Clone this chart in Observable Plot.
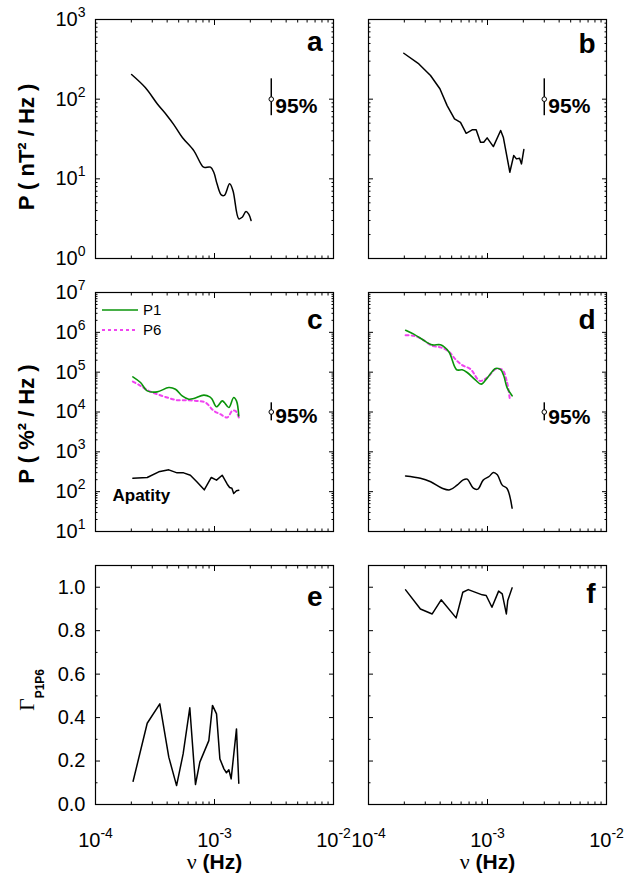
<!DOCTYPE html>
<html><head><meta charset="utf-8">
<script src="https://cdn.jsdelivr.net/npm/d3@7"></script>
<script src="https://cdn.jsdelivr.net/npm/@observablehq/plot@0.6"></script>
<style>
body{margin:0;background:#fff;}
#wrap{position:relative;width:625px;height:881px;overflow:hidden;font-family:"Liberation Sans",Arial,Helvetica,sans-serif;}
#wrap svg{position:absolute;overflow:visible;background:transparent;}
.leg{position:absolute;font-size:15px;line-height:20px;height:20px;display:flex;align-items:center;}
.leg svg{position:static !important;margin-right:5px;}
</style></head><body><div id="wrap"></div>
<script>
// ---------- data ----------
// panel a (magnetometer, left)
const aFreq = [2.01e-4, 2.63e-4, 3.3e-4, 4.0e-4, 4.55e-4, 5.37e-4, 6.7e-4, 7.6e-4, 8.1e-4, 9.25e-4, 9.86e-4, 1.05e-3, 1.14e-3, 1.21e-3, 1.34e-3, 1.43e-3, 1.6e-3, 1.71e-3, 1.84e-3, 1.94e-3, 2.03e-3];
const aPow  = [204, 139, 87.7, 62, 48, 33, 22.6, 15.9, 14, 14, 12.1, 8.65, 6.3, 6.2, 8.65, 7.1, 3.15, 3.3, 3.9, 3.6, 3.0];
// panel b
const bFreq = [1.98e-4, 2.65e-4, 3.32e-4, 3.98e-4, 4.58e-4, 5.28e-4, 5.93e-4, 6.62e-4, 7.43e-4, 8.03e-4, 8.73e-4, 9.3e-4, 9.93e-4, 1.12e-3, 1.29e-3, 1.36e-3, 1.54e-3, 1.66e-3, 1.75e-3, 1.86e-3, 1.93e-3, 2.02e-3];
const bPow  = [377, 277, 198, 135, 83, 56.6, 51, 37.3, 41.2, 41.2, 28.8, 28.8, 32.7, 25.4, 40.4, 33, 12.1, 19.6, 17.8, 18.1, 15.4, 23.3];
// panel c
const cP1Freq = [2.06e-4, 2.39e-4, 2.72e-4, 3.3e-4, 4.13e-4, 4.7e-4, 5.35e-4, 6.08e-4, 6.7e-4, 8.13e-4, 9.13e-4, 9.55e-4, 1.04e-3, 1.16e-3, 1.21e-3, 1.32e-3, 1.45e-3, 1.53e-3, 1.6e-3];
const cP1Pow  = [76400, 55000, 34000, 32000, 41200, 37400, 25400, 21000, 21800, 26500, 24000, 21000, 13500, 19000, 17300, 13000, 23100, 19000, 8000];
const cP6Freq = [2.06e-4, 2.39e-4, 2.8e-4, 3.3e-4, 4.0e-4, 4.85e-4, 5.9e-4, 7.1e-4, 8.4e-4, 9.86e-4, 1.12e-3, 1.28e-3, 1.41e-3, 1.5e-3, 1.6e-3];
const cP6Pow  = [58300, 45400, 34000, 28000, 23100, 19800, 19800, 19000, 17300, 10700, 8800, 7300, 10700, 10700, 7300];
const cApFreq = [2.06e-4, 2.72e-4, 3.4e-4, 4.13e-4, 4.85e-4, 5.5e-4, 6.27e-4, 7.1e-4, 8.2e-4, 9.4e-4, 1.04e-3, 1.16e-3, 1.28e-3, 1.34e-3, 1.4e-3, 1.45e-3, 1.53e-3, 1.6e-3];
const cApPow  = [218, 227, 315, 353, 297, 297, 259, 177, 111, 227, 195, 259, 154, 127, 122, 90, 105, 109];
// panel d
const dP1Freq = [2.05e-4, 2.4e-4, 2.82e-4, 3.43e-4, 4.03e-4, 4.73e-4, 5.5e-4, 6.13e-4, 6.75e-4, 7.94e-4, 8.85e-4, 9.93e-4, 1.17e-3, 1.29e-3, 1.37e-3, 1.46e-3, 1.61e-3];
const dP1Pow  = [1.13e6, 9.0e5, 6.7e5, 4.85e5, 4.85e5, 3.24e5, 1.15e5, 1.15e5, 9.8e4, 6.3e4, 5.0e4, 7.1e4, 1.24e5, 1.15e5, 8.1e4, 4.1e4, 2.55e4];
const dP6Freq = [2.05e-4, 2.4e-4, 2.82e-4, 3.43e-4, 4.03e-4, 4.73e-4, 5.38e-4, 6.13e-4, 7.2e-4, 8.62e-4, 9.93e-4, 1.17e-3, 1.33e-3, 1.45e-3, 1.54e-3];
const dP6Pow  = [8.5e5, 8.2e5, 6.7e5, 4.6e5, 4.2e5, 3.3e5, 2.1e5, 1.5e5, 1.19e5, 6.05e4, 7.3e4, 1.19e5, 1.15e5, 6.05e4, 2.1e4];
const dApFreq = [2.05e-4, 2.73e-4, 3.33e-4, 4.16e-4, 4.82e-4, 5.55e-4, 6.25e-4, 6.75e-4, 7.6e-4, 8.3e-4, 9.2e-4, 1.03e-3, 1.12e-3, 1.21e-3, 1.33e-3, 1.46e-3, 1.61e-3];
const dApPow  = [249, 218, 177, 122, 111, 146, 198, 206, 122, 116, 195, 240, 303, 265, 146, 120, 38.6];
// panel e (coherence)
const eFreq = [2.07e-4, 2.72e-4, 3.47e-4, 4.13e-4, 4.8e-4, 5.45e-4, 6.2e-4, 6.92e-4, 7.53e-4, 8.96e-4, 9.62e-4, 1.04e-3, 1.11e-3, 1.2e-3, 1.26e-3, 1.32e-3, 1.38e-3, 1.53e-3, 1.6e-3];
const eCoh  = [0.107, 0.374, 0.463, 0.218, 0.087, 0.233, 0.445, 0.092, 0.195, 0.294, 0.456, 0.417, 0.21, 0.164, 0.146, 0.16, 0.118, 0.348, 0.098];
// panel f
const fFreq = [2.05e-4, 2.73e-4, 3.43e-4, 4.08e-4, 5.45e-4, 6.2e-4, 6.89e-4, 9.03e-4, 9.75e-4, 1.09e-3, 1.24e-3, 1.33e-3, 1.44e-3, 1.48e-3, 1.61e-3];
const fCoh  = [0.988, 0.9, 0.877, 0.942, 0.859, 0.977, 0.989, 0.965, 0.962, 0.908, 0.982, 0.969, 0.877, 0.939, 0.997];
// 95% confidence markers
const ciFreq = 3e-3;
const ciMag = {lo: 62, mid: 100, hi: 180};
const ciRio = {lo: 6000, mid: 1e4, hi: 17000};
// axis ticks and labels
const xMajor = [1e-4, 1e-3, 1e-2];
const xMinor = [2,3,4,5,6,7,8,9].flatMap(m => [m * 1e-4, m * 1e-3]);
const magMajor = [1e0, 1e1, 1e2, 1e3];
const rioMajor = [1e1, 1e2, 1e3, 1e4, 1e5, 1e6, 1e7];
const cohMajor = [0, 0.2, 0.4, 0.6, 0.8, 1.0];
const cohMinor = [0.1, 0.3, 0.5, 0.7, 0.9];
const panelLetters = ["a", "b", "c", "d", "e", "f"];
const legendNames = ["P1", "P6"];
const legendColors = ["#0a940a", "#f044f0"];
const legendDash = [null, "3,3"];

// ---------- helpers ----------
const SANS = '"Liberation Sans", Arial, Helvetica, sans-serif';
const SERIF = '"Liberation Serif", "Times New Roman", serif';
const NS = "http://www.w3.org/2000/svg";
const rows = (xs, ys) => xs.map((x, i) => ({x, y: ys[i]}));
function logMinor(lo, hi) { const o = []; for (let e = lo; e < hi; e++) for (let m = 2; m <= 9; m++) o.push(+(m * 10 ** e).toPrecision(3)); return o; }
const logFmt = d => `10^${Math.round(Math.log10(d))}`;
const none = () => "";

function post(svg) {
  svg.querySelectorAll("text").forEach(t => {
    const s = t.textContent;
    let m = /^10\^(-?\d+)$/.exec(s);
    if (m) {
      t.textContent = "10";
      const ts = document.createElementNS(NS, "tspan");
      ts.setAttribute("dy", "-9"); ts.setAttribute("font-size", "14"); ts.textContent = m[1];
      t.appendChild(ts);
    } else if (s === "Γ|P1P6") {
      t.textContent = "";
      const g = document.createElementNS(NS, "tspan");
      g.setAttribute("font-family", SERIF); g.setAttribute("font-weight", "normal"); g.setAttribute("font-size", "22"); g.textContent = "Γ";
      const sub = document.createElementNS(NS, "tspan");
      sub.setAttribute("font-size", "12"); sub.setAttribute("font-weight", "bold"); sub.setAttribute("dy", "10"); sub.textContent = "P1P6";
      t.appendChild(g); t.appendChild(sub);
    } else if (s === "ν (Hz)") {
      t.textContent = "";
      const n = document.createElementNS(NS, "tspan");
      n.setAttribute("font-family", SERIF); n.setAttribute("font-weight", "normal"); n.setAttribute("font-size", "22"); n.textContent = "ν";
      const h = document.createElementNS(NS, "tspan");
      h.setAttribute("font-weight", "bold"); h.textContent = " (Hz)";
      t.appendChild(n); t.appendChild(h);
    }
  });
}

function panel({left, top, ml, mr, mt, mb, y, yMajor, yMinor, yFmt, showY, showX, marks}) {
  const axes = [
    Plot.axisX(xMajor, {anchor: "bottom", tickSize: -5, tickPadding: 33, tickFormat: showX ? logFmt : none, label: null, fontSize: 20}),
    Plot.axisX(xMajor, {anchor: "top", tickSize: -5, tickFormat: none, label: null}),
    Plot.axisX(xMinor, {anchor: "bottom", tickSize: -2.5, tickFormat: none, label: null}),
    Plot.axisX(xMinor, {anchor: "top", tickSize: -2.5, tickFormat: none, label: null}),
    Plot.axisY(yMajor, {anchor: "left", tickSize: -5, tickPadding: 15, tickFormat: showY ? yFmt : none, label: null, fontSize: 20}),
    Plot.axisY(yMajor, {anchor: "right", tickSize: -5, tickFormat: none, label: null}),
    Plot.axisY(yMinor, {anchor: "left", tickSize: -2.5, tickFormat: none, label: null}),
    Plot.axisY(yMinor, {anchor: "right", tickSize: -2.5, tickFormat: none, label: null})
  ];
  const svg = Plot.plot({
    width: ml + 238 + mr, height: mt + 239 + mb,
    marginLeft: ml, marginRight: mr, marginTop: mt, marginBottom: mb,
    x: {type: "log", domain: [1e-4, 1e-2]},
    y,
    style: {fontFamily: SANS, fontSize: "20px", overflow: "visible", background: "transparent", color: "black"},
    marks: [...marks, Plot.frame({stroke: "black", strokeWidth: 1.2}), ...axes]
  });
  post(svg);
  svg.style.left = left + "px"; svg.style.top = top + "px";
  document.getElementById("wrap").appendChild(svg);
}

const letter = (L, dy) => Plot.text([L], {text: d => d, frameAnchor: "top-right", dx: -11, dy, lineAnchor: "bottom", textAnchor: "end", fontSize: 28, fontWeight: "bold"});
const ciMarks = (ci, dy) => [
  Plot.ruleX([ci], {x: () => ciFreq, y1: "lo", y2: "hi", stroke: "black", strokeWidth: 1.5}),
  Plot.dot([ci], {x: () => ciFreq, y: "mid", r: 2.3, fill: "white", stroke: "black", strokeWidth: 1}),
  Plot.text([ci], {x: () => ciFreq, y: "mid", text: () => "95%", dx: 4, dy, textAnchor: "start", fontSize: 21, fontWeight: "bold"})
];
const yLab = (txt, dy, bold = true, size = 22) => Plot.text([txt], {text: d => d, frameAnchor: "left", rotate: -90, dx: -62, dy, lineAnchor: "bottom", textAnchor: "middle", fontSize: size, fontWeight: bold ? "bold" : "normal"});
const blk = (xs, ys, curve) => Plot.line(rows(xs, ys), {x: "x", y: "y", stroke: "black", strokeWidth: 1.5, curve});
const p1 = (xs, ys) => Plot.line(rows(xs, ys), {x: "x", y: "y", stroke: legendColors[0], strokeWidth: 1.6, curve: "catmull-rom"});
const p6 = (xs, ys) => Plot.line(rows(xs, ys), {x: "x", y: "y", stroke: legendColors[1], strokeWidth: 2, strokeDasharray: legendDash[1], curve: "catmull-rom"});

const magY = {type: "log", domain: [1, 1e3]};
const rioY = {type: "log", domain: [10, 1e7]};
const cohY = {type: "linear", domain: [0, 1.1]};

// ---------- panels ----------
panel({left: 0, top: 0, ml: 95, mr: 20, mt: 19, mb: 15, y: magY, yMajor: magMajor, yMinor: logMinor(0, 3), yFmt: logFmt, showY: true, showX: false,
  marks: [blk(aFreq, aPow, "catmull-rom"), ...ciMarks(ciMag, 7), letter(panelLetters[0], 31), yLab("P ( nT² / Hz )", 8)]});
panel({left: 348, top: 0, ml: 20, mr: 19, mt: 19, mb: 15, y: magY, yMajor: magMajor, yMinor: logMinor(0, 3), yFmt: logFmt, showY: false, showX: false,
  marks: [blk(bFreq, bPow, "linear"), ...ciMarks(ciMag, 7), letter(panelLetters[1], 33)]});
panel({left: 0, top: 272, ml: 95, mr: 20, mt: 20, mb: 15, y: rioY, yMajor: rioMajor, yMinor: logMinor(1, 7), yFmt: logFmt, showY: true, showX: false,
  marks: [p6(cP6Freq, cP6Pow), p1(cP1Freq, cP1Pow), blk(cApFreq, cApPow, "linear"), ...ciMarks(ciRio, 4), letter(panelLetters[2], 36),
    Plot.text(["Apatity"], {text: d => d, frameAnchor: "bottom-left", dx: 17, dy: -31, lineAnchor: "bottom", textAnchor: "start", fontSize: 17, fontWeight: "bold"}),
    yLab("P ( %² / Hz )", 12)]});
panel({left: 348, top: 272, ml: 20, mr: 19, mt: 20, mb: 15, y: rioY, yMajor: rioMajor, yMinor: logMinor(1, 7), yFmt: logFmt, showY: false, showX: false,
  marks: [p6(dP6Freq, dP6Pow), p1(dP1Freq, dP1Pow), blk(dApFreq, dApPow, "catmull-rom"), ...ciMarks(ciRio, 5), letter(panelLetters[3], 36)]});
const xLab = Plot.text(["ν (Hz)"], {text: d => d, frameAnchor: "bottom", dy: 64, lineAnchor: "bottom", textAnchor: "middle", fontSize: 21});
panel({left: 0, top: 545, ml: 95, mr: 20, mt: 20, mb: 77, y: cohY, yMajor: cohMajor, yMinor: cohMinor, yFmt: d => d.toFixed(1), showY: true, showX: true,
  marks: [blk(eFreq, eCoh, "linear"), letter(panelLetters[4], 40), yLab("Γ|P1P6", 5), xLab]});
panel({left: 348, top: 545, ml: 20, mr: 19, mt: 20, mb: 77, y: cohY, yMajor: cohMajor, yMinor: cohMinor, yFmt: d => d.toFixed(1), showY: false, showX: true,
  marks: [blk(fFreq, fCoh, "linear"), letter(panelLetters[5], 37), xLab]});

// ---------- legend (panel c) ----------
const wrap = document.getElementById("wrap");
legendNames.forEach((name, i) => {
  const row = document.createElement("div");
  row.className = "leg";
  row.style.left = "102px"; row.style.top = (300 + i * 20) + "px";
  const s = document.createElementNS(NS, "svg");
  s.setAttribute("width", "36"); s.setAttribute("height", "4");
  const ln = document.createElementNS(NS, "line");
  ln.setAttribute("x1", "0"); ln.setAttribute("x2", "36"); ln.setAttribute("y1", "2"); ln.setAttribute("y2", "2");
  ln.setAttribute("stroke", legendColors[i]); ln.setAttribute("stroke-width", i ? "2" : "1.6");
  if (legendDash[i]) ln.setAttribute("stroke-dasharray", legendDash[i]);
  s.appendChild(ln);
  row.appendChild(s);
  const tx = document.createElement("span"); tx.textContent = name; row.appendChild(tx);
  wrap.appendChild(row);
});
</script></body></html>
